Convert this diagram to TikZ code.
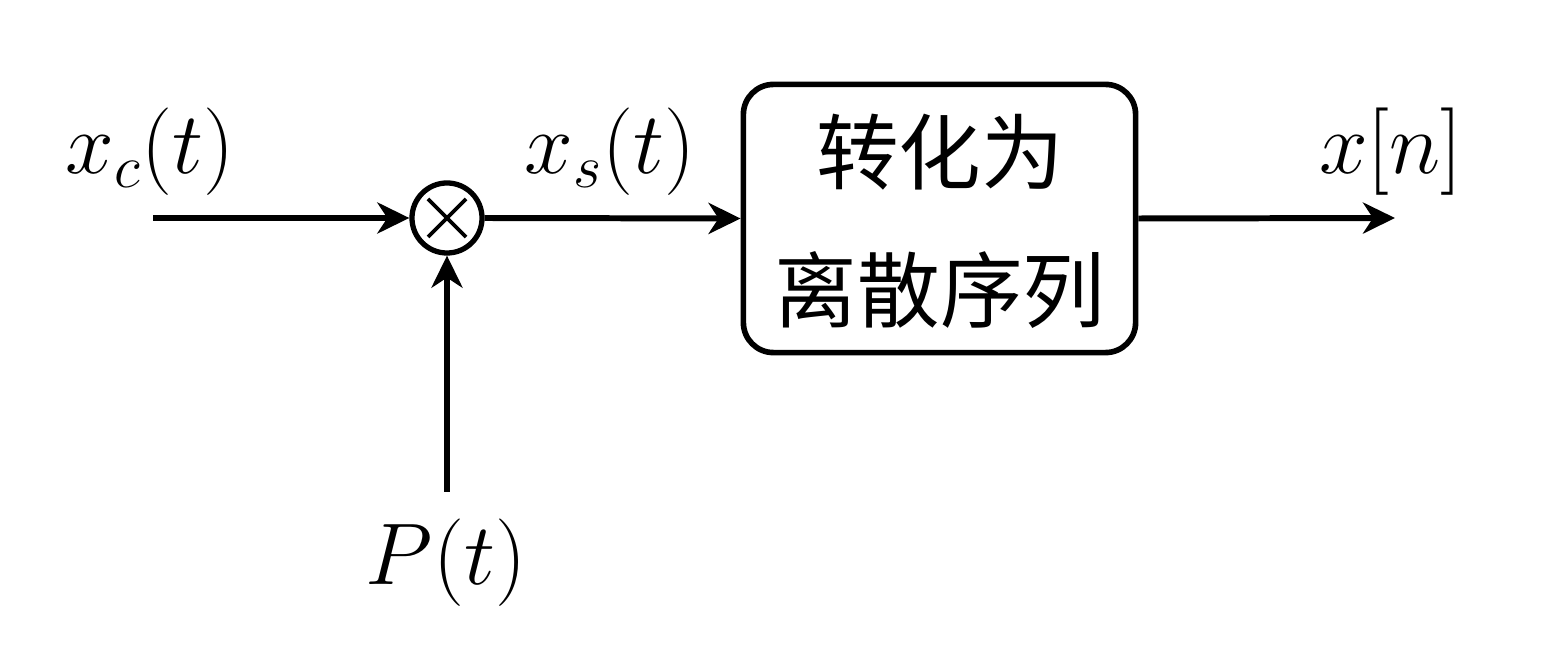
\documentclass[tikz,border=0pt]{standalone}
\usepackage{fontspec}
\newfontfamily\cjk{Noto Sans CJK SC}
\usetikzlibrary{arrows.meta,calc}
\begin{document}
\begin{tikzpicture}[x=0.01cm,y=-0.01cm,
  conn/.style={line width=1.7pt,-{Stealth[length=0.32cm,width=0.31cm,inset=0.1cm]}},
  lbl/.style={font=\fontsize{24}{28}\selectfont,inner sep=0pt,anchor=base},
  cjklbl/.style={font=\fontsize{23.5}{28}\selectfont\cjk,inner sep=0pt},
  mult/.style={circle,draw,line width=1.5pt,minimum size=0.70cm,inner sep=0pt},
  blk/.style={draw,line width=1.6pt,rounded corners=0.3cm,minimum width=3.92cm,minimum height=2.68cm,inner sep=0pt}]
\useasboundingbox (0,0) rectangle (1551,652);
\coordinate (in) at (153,218);
\coordinate (pin) at (447,492);
\coordinate (out) at (1395,218);
\node[mult] (m) at (447,218) {};
\draw[line width=1.1pt] ($(m.center)+(-19,-19)$) -- ($(m.center)+(19,19)$);
\draw[line width=1.1pt] ($(m.center)+(-19,19)$) -- ($(m.center)+(19,-19)$);
\node[blk] (b) at (939.5,218.5) {};
\node[cjklbl] (t1) at (940,152) {转化为};
\node[cjklbl] (t2) at (940,290) {离散序列};
\draw[conn] (in) -- (m.west);
\draw[conn] (pin) -- (m.south);
\draw[conn] (m.east) -- (b.west);
\draw[conn] (b.east) -- (out);
\node[lbl] (lxc) at (150,174) {$x_c(t)$};
\node[lbl] (lxs) at (610,174) {$x_s(t)$};
\node[lbl] (lxn) at (1391,174) {$x[n]$};
\node[lbl] (lp) at (446,584) {$P(t)$};
\end{tikzpicture}
\end{document}
